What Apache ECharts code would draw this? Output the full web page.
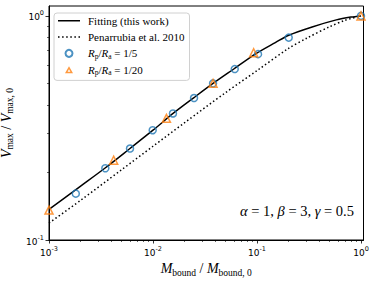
<!DOCTYPE html>
<html>
<head>
<meta charset="utf-8">
<script src="https://cdn.jsdelivr.net/npm/echarts@6/dist/echarts.min.js"></script>
<style>html,body{margin:0;padding:0;background:#fff}#c{width:374px;height:281px}</style>
</head>
<body>
<div id="c"></div>
<script>
// ---- data ----
const fitX = [0.001, 0.002, 0.00344, 0.006, 0.01, 0.0156, 0.0248, 0.0378, 0.0594, 0.0986, 0.15, 0.2018, 0.345, 0.579, 0.8, 1.0];
const fitY = [0.137, 0.1736, 0.209, 0.256, 0.309, 0.367, 0.432, 0.4995, 0.578, 0.680, 0.76, 0.820, 0.895, 0.960, 0.988, 1.0];
const penX = [0.001, 0.002, 0.005, 0.01, 0.02, 0.05, 0.1, 0.2, 0.3, 0.5, 0.7, 1.0];
const penY = [0.119, 0.150, 0.206, 0.262, 0.333, 0.455, 0.570, 0.715, 0.795, 0.895, 0.955, 1.0];
const rp5X = [0.00181, 0.00348, 0.00601, 0.00993, 0.01556, 0.0248, 0.0378, 0.0611, 0.1023, 0.2018, 1.0];
const rp5Y = [0.161, 0.209, 0.256, 0.309, 0.367, 0.430, 0.500, 0.579, 0.675, 0.800, 1.0];
const rp20X = [0.001, 0.00419, 0.01346, 0.0378, 0.0929, 1.0];
const rp20Y = [0.136, 0.227, 0.349, 0.500, 0.685, 1.0];

const seriesNames = ['Fitting (this work)', 'Penarrubia et al. 2010', 'Rp/Ra=1/5', 'Rp/Ra=1/20'];
const legendLabels = ['{n|Fitting (this work)}', '{n|Penarrubia et al. 2010}',
  '{i|R}{s|p}{n|/}{i|R}{s|a}{n| = 1/5}', '{i|R}{s|p}{n|/}{i|R}{s|a}{n| = 1/20}'];
const xMajor = [0.001, 0.01, 0.1, 1];
const xMajorLabels = ['-3', '-2', '-1', '0'];
const xMinor = [0.002,0.003,0.004,0.005,0.006,0.007,0.008,0.009,0.02,0.03,0.04,0.05,0.06,0.07,0.08,0.09,0.2,0.3,0.4,0.5,0.6,0.7,0.8,0.9];
const yMajor = [0.1, 1];
const yMajorLabels = ['-1', '0'];
const yMinor = [0.2,0.3,0.4,0.5,0.6,0.7,0.8,0.9];
const xTitle = '{i|M}{s|bound}{n| / }{i|M}{s|bound, 0}';
const yTitle = '{i|V}{s|max}{n| / }{i|V}{s|max, 0}';
const annot = '{g|α}{n| = 1, }{g|β}{n| = 3, }{g|γ}{n| = 0.5}';

const zip = (a, b) => a.map((v, i) => [v, b[i]]);
const serif = 'Liberation Serif';
const tickRich = {
  b: {fontFamily: 'DejaVu Sans', fontSize: 9, color: '#000', lineHeight: 12, verticalAlign: 'bottom'},
  sup: {fontFamily: 'DejaVu Sans', fontSize: 6.5, color: '#000', lineHeight: 12, verticalAlign: 'top', padding: [0,0,3,0]}
};
const titleRich = {
  i: {fontFamily: serif, fontStyle: 'italic', fontSize: 14, color: '#000', lineHeight: 18},
  n: {fontFamily: serif, fontSize: 14, color: '#000', lineHeight: 18},
  s: {fontFamily: serif, fontSize: 9.5, color: '#000', lineHeight: 18, verticalAlign: 'bottom', padding: [5,0,0,0]}
};
const FMIN = 0.001, FMAX = 1.057, YMIN = 0.1, YMAX = 1.107;

// legend icons
const solidIcon = 'path://M0,0h22v1.5h-22z';
let dots = '';
for (let k = 0; k < 6; k++) dots += 'M' + (k * 4) + ',0h1.5v1.5h-1.5z ';
const dotIcon = 'path://' + dots.trim();
const triIcon = 'path://M0,7L4,0L8,7Z M2.6,5.6L5.4,5.6L4,3.1Z';

const chart = echarts.init(document.getElementById('c'), null, {renderer: 'svg'});
const expOf = (vals, labs) => v => {
  let k = 0, best = 1e9;
  vals.forEach((t, i) => { const d = Math.abs(Math.log10(t) - Math.log10(v)); if (d < best) { best = d; k = i; } });
  return '{b|10}{sup|' + labs[k] + '}';
};

chart.setOption({
  animation: false,
  backgroundColor: '#fff',
  grid: {left: 49, right: 10.5, top: 6, bottom: 41, show: true, borderColor: '#000', borderWidth: 1, outerBoundsMode: 'none'},
  xAxis: [
    {type: 'log', logBase: 10, min: FMIN, max: FMAX, position: 'bottom',
     axisLine: {show: true, lineStyle: {color: '#000', width: 1}},
     axisTick: {show: true, inside: false, length: 3.5, lineStyle: {color: '#000', width: 0.8}, customValues: xMajor},
     axisLabel: {show: true, margin: 5, customValues: xMajor, formatter: expOf(xMajor, xMajorLabels), rich: tickRich},
     splitLine: {show: false}, minorTick: {show: false},
     name: xTitle, nameLocation: 'middle', nameGap: 19, nameTextStyle: {rich: titleRich}},
    {type: 'log', logBase: 10, min: FMIN, max: FMAX, position: 'bottom',
     axisLine: {show: false},
     axisTick: {show: true, inside: false, length: 2, lineStyle: {color: '#000', width: 0.6}, customValues: xMinor},
     axisLabel: {show: false}, splitLine: {show: false}}
  ],
  yAxis: [
    {type: 'log', logBase: 10, min: YMIN, max: YMAX, position: 'left',
     axisLine: {show: true, lineStyle: {color: '#000', width: 1}},
     axisTick: {show: true, inside: false, length: 3.5, lineStyle: {color: '#000', width: 0.8}, customValues: yMajor},
     axisLabel: {show: true, margin: 5, customValues: yMajor, formatter: expOf(yMajor, yMajorLabels), rich: tickRich},
     splitLine: {show: false},
     name: yTitle, nameLocation: 'middle', nameGap: 25, nameRotate: 90, nameTextStyle: {rich: titleRich}},
    {type: 'log', logBase: 10, min: YMIN, max: YMAX, position: 'left',
     axisLine: {show: false},
     axisTick: {show: true, inside: false, length: 2, lineStyle: {color: '#000', width: 0.6}, customValues: yMinor},
     axisLabel: {show: false}, splitLine: {show: false}}
  ],
  legend: {
    orient: 'vertical', left: 54, top: 13,
    padding: [1, 5, 4, 4], itemGap: 2.8, itemWidth: 22, itemHeight: 7, symbolKeepAspect: true,
    backgroundColor: 'rgba(255,255,255,0.8)', borderColor: '#d0d0d0', borderWidth: 1, borderRadius: 3,
    data: [
      {name: seriesNames[0], icon: solidIcon, itemStyle: {color: '#000', borderWidth: 0}},
      {name: seriesNames[1], icon: dotIcon, itemStyle: {color: '#000', borderWidth: 0}},
      {name: seriesNames[2], icon: 'emptyCircle', itemStyle: {color: '#1f77b4', borderWidth: 0}},
      {name: seriesNames[3], icon: triIcon, itemStyle: {color: '#ff7f0e', borderWidth: 0}}
    ],
    formatter: name => legendLabels[seriesNames.indexOf(name)],
    textStyle: {fontFamily: serif, fontSize: 11, color: '#000', lineHeight: 13.5, padding: [0,0,0,3],
      rich: {
        n: {fontFamily: serif, fontSize: 11, color: '#000', lineHeight: 13.5},
        i: {fontFamily: serif, fontStyle: 'italic', fontSize: 11, color: '#000', lineHeight: 13.5},
        s: {fontFamily: serif, fontSize: 7.5, color: '#000', lineHeight: 13.5, verticalAlign: 'bottom', padding: [4,0,0,0]}
      }}
  },
  graphic: [{
    type: 'text', right: 20, top: 203, z: 10,
    style: {text: annot, rich: {
      g: {fontFamily: serif, fontStyle: 'italic', fontSize: 14.5, fill: '#000'},
      n: {fontFamily: serif, fontSize: 14.5, fill: '#000'}
    }}
  }],
  series: [
    {name: seriesNames[0], type: 'line', data: zip(fitX, fitY), showSymbol: false, symbol: 'none',
     smooth: 0.3, lineStyle: {color: '#000', width: 1.5}, itemStyle: {color: '#000'}, z: 2},
    {name: seriesNames[1], type: 'line', data: zip(penX, penY), showSymbol: false, symbol: 'none',
     smooth: 0.3, lineStyle: {color: '#000', width: 1.5, type: [1.5, 2.5]}, itemStyle: {color: '#000'}, z: 2},
    {name: seriesNames[2], type: 'scatter', data: zip(rp5X, rp5Y), symbol: 'circle', symbolSize: 7,
     itemStyle: {color: 'rgba(255,255,255,0)', borderColor: '#1f77b4', borderWidth: 1.5}, z: 3},
    {name: seriesNames[3], type: 'scatter', data: zip(rp20X, rp20Y), symbol: 'triangle', symbolSize: 8,
     itemStyle: {color: 'rgba(255,255,255,0)', borderColor: '#ff7f0e', borderWidth: 1.5}, z: 4}
  ]
});
</script>
</body>
</html>
